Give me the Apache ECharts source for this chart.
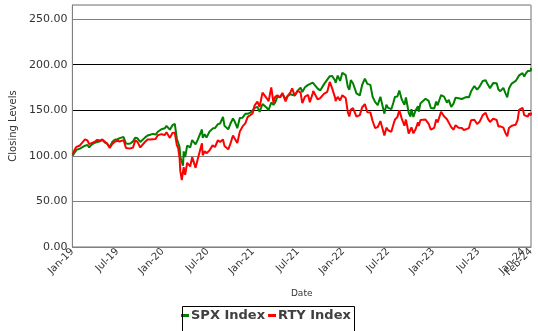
<!DOCTYPE html>
<html>
<head>
<meta charset="utf-8">
<title>SPX Index vs RTY Index</title>
<script src="https://cdn.jsdelivr.net/npm/echarts@6/dist/echarts.min.js"></script>
<style>
  html, body { margin: 0; padding: 0; background: #fff; }
  #chart { width: 538px; height: 331px; }
</style>
</head>
<body>
<div id="chart"></div>
<script>
// Closing levels of both indices, rebased to 100 at the start of 2019.
const dates = [
  '2019-01-02','2019-01-10','2019-01-18','2019-02-01','2019-02-08','2019-02-20','2019-03-01','2019-03-08','2019-03-20',
  '2019-04-01','2019-04-10','2019-04-22','2019-04-30','2019-05-10','2019-05-20','2019-05-31','2019-06-10','2019-06-20',
  '2019-07-01','2019-07-10','2019-07-26','2019-08-05','2019-08-14','2019-08-23','2019-09-03','2019-09-12','2019-09-20',
  '2019-10-02','2019-10-10','2019-10-21','2019-11-01','2019-11-11','2019-11-22','2019-12-03','2019-12-12','2019-12-27',
  '2020-01-10','2020-01-17','2020-01-31','2020-02-10','2020-02-19','2020-02-27','2020-03-03','2020-03-09','2020-03-12',
  '2020-03-16','2020-03-18','2020-03-23','2020-03-26','2020-04-01','2020-04-09','2020-04-21','2020-04-29','2020-05-13',
  '2020-05-22','2020-06-08','2020-06-11','2020-06-19','2020-06-26','2020-07-08','2020-07-21','2020-07-31','2020-08-12',
  '2020-08-21','2020-09-02','2020-09-08','2020-09-23','2020-10-01','2020-10-12','2020-10-20','2020-10-30','2020-11-09',
  '2020-11-20','2020-12-01','2020-12-11','2020-12-21','2020-12-31',
  '2021-01-08','2021-01-20','2021-01-29','2021-02-09','2021-02-25','2021-03-04','2021-03-15','2021-03-24','2021-03-31',
  '2021-04-09','2021-04-20','2021-04-29','2021-05-12','2021-05-21','2021-06-01','2021-06-08','2021-06-18','2021-06-30',
  '2021-07-12','2021-07-19','2021-07-30','2021-08-12','2021-08-19','2021-08-31','2021-09-02','2021-09-20','2021-09-30',
  '2021-10-04','2021-10-15','2021-10-29','2021-11-08','2021-11-18','2021-11-30','2021-12-01','2021-12-10','2021-12-20',
  '2021-12-29',
  '2022-01-03','2022-01-12','2022-01-21','2022-01-27','2022-02-02','2022-02-10','2022-02-23','2022-03-08','2022-03-18',
  '2022-03-29','2022-04-08','2022-04-20','2022-04-29','2022-05-09','2022-05-20','2022-05-31','2022-06-07','2022-06-16',
  '2022-06-24','2022-07-01','2022-07-14','2022-07-22','2022-07-29','2022-08-08','2022-08-16','2022-08-26','2022-09-06',
  '2022-09-12','2022-09-23','2022-09-30','2022-10-04','2022-10-12','2022-10-21','2022-10-31','2022-11-03','2022-11-10',
  '2022-11-30','2022-12-13','2022-12-22','2022-12-30',
  '2023-01-05','2023-01-13','2023-01-19','2023-02-02','2023-02-13','2023-02-24','2023-03-03','2023-03-13','2023-03-22',
  '2023-03-31','2023-04-12','2023-04-25','2023-05-03','2023-05-12','2023-05-24','2023-06-02','2023-06-15','2023-06-26',
  '2023-07-06','2023-07-19','2023-07-31','2023-08-09','2023-08-18','2023-08-31','2023-09-14','2023-09-21','2023-09-29',
  '2023-10-11','2023-10-20','2023-10-27','2023-11-03','2023-11-14','2023-11-30','2023-12-08','2023-12-14','2023-12-28',
  '2024-01-04','2024-01-12','2024-01-19','2024-01-24','2024-01-31','2024-02-01'
];

const spx = [
  100.1,103.6,106.5,108.0,108.0,111.1,111.9,109.4,112.7,
  114.4,115.2,116.0,117.5,114.9,113.3,109.8,115.1,117.8,
  118.2,119.4,120.7,113.5,113.3,113.6,115.9,120.0,119.4,
  115.2,117.2,120.0,122.3,123.1,124.1,123.4,126.4,129.2,
  130.2,132.8,128.7,133.7,135.1,118.8,119.8,109.6,99.0,
  95.2,96.0,89.2,104.9,98.6,111.3,109.2,117.3,112.5,
  117.9,128.9,119.8,123.6,120.0,126.5,129.9,130.5,134.8,
  135.5,142.8,132.9,129.1,134.9,141.0,137.3,130.4,141.6,
  141.9,146.1,146.1,147.4,149.8,
  152.5,153.7,148.2,156.9,152.7,150.3,158.5,156.0,158.5,
  164.7,164.9,168.0,162.1,165.8,167.6,169.7,166.2,171.5,
  174.9,169.9,175.3,177.9,175.8,180.4,181.0,173.8,171.8,
  171.5,178.4,183.7,187.4,187.6,182.2,180.0,188.0,182.2,
  191.2,
  191.4,188.5,175.4,172.6,183.1,179.7,168.5,166.3,178.0,
  184.8,179.0,177.9,164.8,159.2,155.6,164.8,166.0,146.3,
  156.0,152.6,151.2,158.0,164.7,165.1,171.7,161.9,155.9,
  164.0,147.3,143.0,151.2,142.7,149.7,154.5,148.4,157.8,
  162.7,160.3,152.5,153.2,
  151.9,159.5,155.5,166.7,165.0,158.4,161.4,153.8,157.0,
  163.9,163.2,162.4,163.2,164.5,164.2,170.8,176.6,172.6,
  176.0,182.1,183.0,178.2,174.3,179.8,179.7,172.7,171.0,
  174.6,168.5,164.2,173.8,179.3,182.2,183.7,188.3,190.8,
  187.0,190.8,193.1,194.2,193.3,196.5
];

const rty = [
  101.5,106.6,109.9,111.4,112.5,118.0,116.9,112.9,114.3,
  115.7,117.5,116.8,118.0,115.8,113.5,108.7,113.0,115.5,
  116.6,115.8,117.2,108.6,108.3,108.2,109.2,117.0,115.6,
  109.2,111.2,115.2,117.9,117.9,118.3,118.5,122.6,123.8,
  122.9,126.0,119.7,125.0,125.5,111.5,108.8,97.4,83.2,
  76.9,73.5,75.2,87.5,79.2,92.4,88.4,98.6,86.8,
  96.5,113.8,100.6,105.1,102.8,105.9,111.5,109.7,117.1,
  115.3,118.0,110.7,107.2,112.8,122.4,120.6,114.0,126.6,
  132.3,135.6,142.7,144.5,146.4,
  155.1,159.5,153.7,169.4,163.1,159.9,175.1,158.3,164.7,
  166.3,164.0,169.0,159.8,165.9,169.6,174.1,166.0,171.4,
  169.4,157.9,165.1,166.9,158.8,168.6,171.1,161.9,163.4,
  163.7,168.1,170.3,181.1,173.8,163.1,160.1,164.7,160.8,
  166.6,
  168.5,163.4,147.4,143.2,150.8,152.3,143.0,144.7,153.3,
  156.7,147.9,147.7,138.2,130.6,131.5,138.2,140.2,122.3,
  130.9,128.1,126.4,133.9,139.8,142.5,149.9,140.9,133.0,
  139.8,124.5,123.5,131.3,124.7,129.2,136.9,132.7,139.4,
  139.9,135.0,128.8,130.6,
  130.7,139.9,136.7,148.4,143.4,140.1,140.8,131.5,128.7,
  133.6,130.7,130.6,128.4,129.1,130.5,139.1,139.6,135.0,
  137.3,144.7,147.3,140.8,137.1,140.9,139.3,132.1,132.4,
  131.0,124.9,121.4,130.5,133.0,134.2,139.5,150.5,152.7,
  144.7,144.7,143.1,146.6,144.4,147.6
];

const seriesNames = ['SPX Index', 'RTY Index'];
const monthNames = ['Jan','Feb','Mar','Apr','May','Jun','Jul','Aug','Sep','Oct','Nov','Dec'];
const firstYear = 2019;
const lastMonth = 61; // Feb-24

// Position of a date in months since Jan 2019 (fractional within the month).
function monthPos(s) {
  const [y, m, d] = s.split('-').map(Number);
  const dim = new Date(y, m, 0).getDate();
  return (y - firstYear) * 12 + (m - 1) + (d - 1) / dim;
}

function monthLabel(v) {
  const k = Math.round(v);
  return monthNames[k % 12] + '-' + String((firstYear + Math.floor(k / 12)) % 100).padStart(2, '0');
}

const xs = dates.map(monthPos);
const spxData = xs.map((x, i) => [x, spx[i]]);
const rtyData = xs.map((x, i) => [x, rty[i]]);

const font = 'DejaVu Sans';
const xLabelStyle = {
  rotate: 45, margin: 3,
  fontFamily: font, fontSize: 10, color: '#333',
  hideOverlap: false,
  formatter: monthLabel
};

const chart = echarts.init(document.getElementById('chart'), null, { renderer: 'canvas' });

chart.setOption({
  animation: false,
  backgroundColor: '#ffffff',
  grid: {
    left: 60, right: 7, top: 5, bottom: 84,
    show: true, borderColor: '#707070', borderWidth: 1, backgroundColor: 'transparent'
  },
  // frame around the legend (its lower edge runs past the bottom of the canvas)
  graphic: [{
    type: 'rect', left: 180, top: 304, z: 5, silent: true,
    shape: { width: 172, height: 40 },
    style: { fill: null, stroke: '#000', lineWidth: 1 }
  }],
  legend: {
    data: seriesNames,
    left: 180, top: 305,
    orient: 'horizontal',
    icon: 'rect',
    itemWidth: 8, itemHeight: 3, itemGap: 3,
    padding: [4, 1, 4, 1],
    textStyle: { fontFamily: font, fontSize: 13, fontWeight: 'bold', color: '#404040', padding: [0, 0, 0, -3] }
  },
  xAxis: [{
    // Jan / Jul ticks
    type: 'value',
    min: 0, max: lastMonth, interval: 6,
    position: 'bottom',
    name: 'Date', nameLocation: 'middle', nameGap: 42,
    nameTextStyle: { fontFamily: font, fontSize: 9, color: '#333' },
    axisLine: { show: true, onZero: false, lineStyle: { color: '#808080', width: 1 } },
    axisTick: { show: false },
    splitLine: { show: false },
    axisLabel: Object.assign({ showMinLabel: true, showMaxLabel: false }, xLabelStyle)
  }, {
    // end of the date range (Feb-24)
    type: 'value',
    min: 0, max: lastMonth, interval: lastMonth,
    position: 'bottom',
    axisLine: { show: false, onZero: false },
    axisTick: { show: false },
    splitLine: { show: false },
    axisLabel: Object.assign({ showMinLabel: false, showMaxLabel: true }, xLabelStyle)
  }],
  yAxis: [{
    type: 'value',
    min: 0, max: 265.5, interval: 50,
    name: 'Closing Levels', nameLocation: 'middle', nameGap: 47,
    nameTextStyle: { fontFamily: font, fontSize: 10, color: '#333' },
    axisLine: { show: true, lineStyle: { color: '#808080', width: 1 } },
    axisTick: { show: false },
    axisLabel: {
      margin: 5, fontFamily: font, fontSize: 11, color: '#333',
      showMaxLabel: false,
      formatter: v => v.toFixed(2)
    },
    splitLine: {
      show: true,
      lineStyle: { width: 1, color: ['#808080', '#808080', '#808080', '#000000', '#000000', '#808080', '#b4b4b4'] }
    }
  }],
  series: [
    {
      name: seriesNames[0], type: 'line', data: spxData, xAxisIndex: 1,
      showSymbol: false, symbol: 'none', smooth: false,
      lineStyle: { color: '#008000', width: 2 }, itemStyle: { color: '#008000' },
      emphasis: { disabled: true }
    },
    {
      name: seriesNames[1], type: 'line', data: rtyData, xAxisIndex: 1,
      showSymbol: false, symbol: 'none', smooth: false,
      lineStyle: { color: '#ff0000', width: 2 }, itemStyle: { color: '#ff0000' },
      emphasis: { disabled: true }
    }
  ]
});
</script>
</body>
</html>
